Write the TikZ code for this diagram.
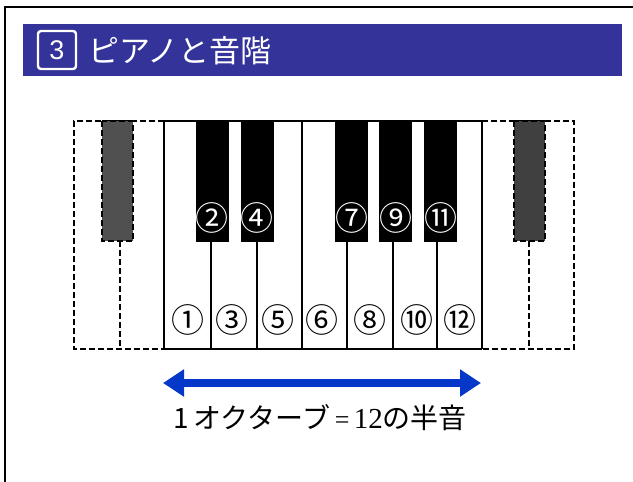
\documentclass[tikz,border=0pt]{standalone}
\usepackage{fontspec}
\setmainfont{Liberation Sans}
\newfontfamily\jp{Noto Sans CJK JP}
\newfontfamily\tms{Liberation Serif}
\usetikzlibrary{arrows.meta}
\definecolor{barblue}{RGB}{51,51,153}
\definecolor{arrowblue}{RGB}{5,55,200}
\definecolor{graykey}{RGB}{80,80,80}
\tikzset{
  solidline/.style={line width=1.8pt, draw=black},
  dashline/.style={line width=1.8pt, draw=black, dash pattern=on 6pt off 3pt},
  blackkey/.style={fill=black, draw=black, line width=1pt},
  graykeystyle/.style={fill=graykey, dashline},
  whitenum/.style={font=\jp\fontsize{33}{33}\selectfont, text=black, inner sep=0pt},
  blacknum/.style={font=\jp\fontsize{33}{33}\selectfont, text=white, inner sep=0pt},
}
\begin{document}
\begin{tikzpicture}[x=1pt,y=-1pt]
\useasboundingbox (0,0) rectangle (633,482);
% frame
\draw[line width=2.2pt] (5,482) -- (5,7) -- (633,7);
% title bar
\fill[barblue] (23,24) rectangle (622,76);
\node[draw=white, line width=2.4pt, rounded corners=3pt, minimum width=38pt, minimum height=38pt,
      text=white, font=\fontsize{27}{27}\selectfont, inner sep=0pt] (num) at (57,50) {3};
\node[anchor=west, text=white, font=\jp\fontsize{31}{31}\selectfont, inner sep=0pt] (title) at (88,51) {ピアノと音階};
% left dashed extension
\draw[dashline] (164,121) -- (74,121) -- (74,349) -- (164,349);
\draw[dashline] (120,241) -- (120,349);
\draw[graykeystyle] (102,121) rectangle (133,241);
% right dashed extension
\draw[dashline] (482,121) -- (574,121) -- (574,349) -- (482,349);
\draw[dashline] (529,241) -- (529,349);
\draw[graykeystyle, fill=graykey!80!black] (514,121) rectangle (545,241);
% solid keyboard
\draw[solidline] (164,121) -- (482,121);
\draw[solidline] (164,349) -- (482,349);
\foreach \x in {164,302,482} \draw[solidline] (\x,121) -- (\x,349);
\foreach \x in {211,257,347,393,437} \draw[solidline] (\x,241) -- (\x,349);
\foreach \x in {212,257,351,395,440} \draw[blackkey] (\x-16,121) rectangle (\x+16,241);
% labels on white keys
\node[whitenum] (n1) at (188,320) {①};
\node[whitenum] (n3) at (232,320) {③};
\node[whitenum] (n5) at (278,320) {⑤};
\node[whitenum] (n6) at (322,320) {⑥};
\node[whitenum] (n8) at (370,320) {⑧};
\node[whitenum] (n10) at (417,320) {⑩};
\node[whitenum] (n12) at (460,320) {⑫};
% labels on black keys
\node[blacknum] (n2) at (212,218) {②};
\node[blacknum] (n4) at (257,218) {④};
\node[blacknum] (n7) at (352,218) {⑦};
\node[blacknum] (n9) at (396,218) {⑨};
\node[blacknum] (n11) at (441,218) {⑪};
% arrow
\coordinate (aL) at (163,383);
\coordinate (aR) at (481,383);
\draw[arrowblue, line width=8pt, {Triangle[length=21pt,width=26pt]}-{Triangle[length=21pt,width=26pt]}] (aL) -- (aR);
% caption
\node[inner sep=0pt] (cap) at (320,418) {\jp\fontsize{28}{28}\selectfont 1\,オクターブ\,{\tms\fontsize{26}{26}\selectfont =\,}{\tms\fontsize{29}{29}\selectfont 12}の半音};
\end{tikzpicture}
\end{document}
